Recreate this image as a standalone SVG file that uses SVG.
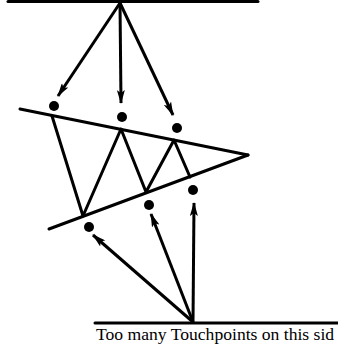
<svg xmlns="http://www.w3.org/2000/svg" width="338" height="347" viewBox="0 0 338 347">
<style>
.ln{stroke:#000;stroke-width:3;fill:none;stroke-linecap:round;stroke-linejoin:round}
.ar{stroke:#000;stroke-width:3;fill:none;marker-end:url(#ah)}
.dot{fill:#000}
.lbl{font-family:"Liberation Serif","Times New Roman",serif;font-size:17.6px;fill:#000}
</style>
<defs>
<marker id="ah" viewBox="0 0 14 8" refX="13" refY="4" markerWidth="14" markerHeight="8" markerUnits="userSpaceOnUse" orient="auto">
<path d="M0,0 L14,4 L0,8 L3,4 Z" fill="#000"/>
</marker>
</defs>
<g id="top-surface">
<line class="ln" x1="8" y1="1.5" x2="258" y2="1.5" stroke-width="2.5"/>
</g>
<g id="bottom-surface">
<line class="ln" x1="95" y1="323" x2="338" y2="323" stroke-width="2.5"/>
<text class="lbl" x="96" y="340">Too many Touchpoints on this sid</text>
</g>
<g id="frame">
<line class="ln" x1="20" y1="109" x2="248" y2="155"/>
<line class="ln" x1="49" y1="229" x2="248" y2="155"/>
<polyline class="ln" points="52,116 83,216 121,129 146,192 174,140 190,177"/>
</g>
<g id="touchpoints">
<circle class="dot" cx="54" cy="106" r="5"/>
<circle class="dot" cx="122" cy="117" r="5"/>
<circle class="dot" cx="177" cy="128" r="5"/>
<circle class="dot" cx="89" cy="227" r="5"/>
<circle class="dot" cx="149" cy="205" r="5"/>
<circle class="dot" cx="193" cy="190" r="5"/>
</g>
<g id="connectors">
<line class="ar" x1="120" y1="3" x2="58" y2="96"/>
<line class="ar" x1="120" y1="3" x2="121" y2="103"/>
<line class="ar" x1="120" y1="3" x2="173" y2="115"/>
<line class="ar" x1="193" y1="322" x2="93" y2="235"/>
<line class="ar" x1="193" y1="322" x2="151" y2="214"/>
<line class="ar" x1="193" y1="322" x2="194" y2="203"/>
</g>
</svg>
